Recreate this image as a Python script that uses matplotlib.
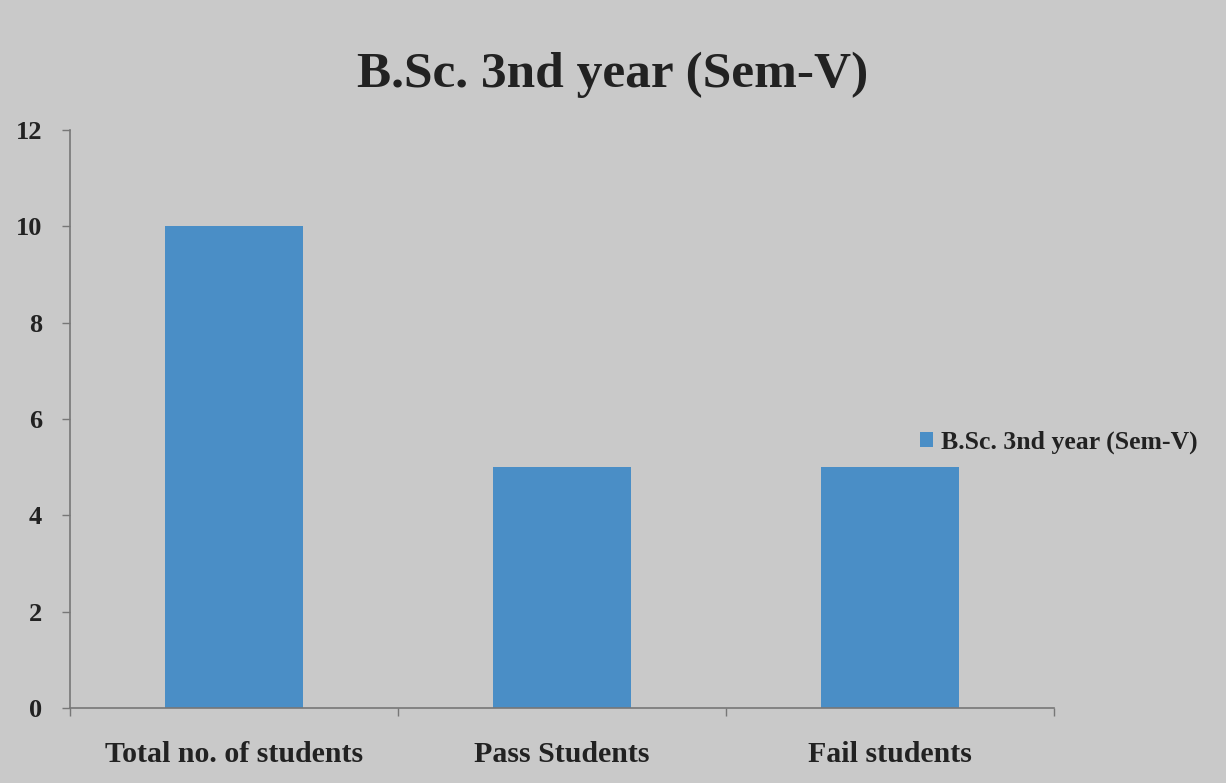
import matplotlib
matplotlib.use("Agg")
import matplotlib.pyplot as plt
import numpy as np

categories = ["Total no. of students", "Pass Students", "Fail students"]
values = [10, 5, 5]
series_name = "B.Sc. 3nd year (Sem-V)"
title = "B.Sc. 3nd year (Sem-V)"
yticks = [0, 2, 4, 6, 8, 10, 12]

plt.rcParams['font.family'] = ['Liberation Serif', 'DejaVu Serif']
plt.rcParams['font.weight'] = 'bold'

bg = '#c9c9c9'
fig = plt.figure(figsize=(12.26, 7.83), dpi=100, facecolor=bg)
ax = fig.add_axes([0.057, 0.096, 0.803, 0.738], facecolor=bg)

x = np.arange(len(categories))
ax.bar(x, values, width=0.42, color='#4a8ec6', label=series_name, zorder=2)

ax.set_xlim(-0.5, len(categories) - 0.5)
ax.set_ylim(0, 12)
ax.set_yticks(yticks)
ax.set_yticklabels([str(t) for t in yticks], fontsize=19, fontweight='bold', color='#222222')
ax.set_xticks(x)
ax.set_xticklabels(categories, fontsize=21.5, fontweight='bold', color='#222222')
ax.tick_params(axis='x', length=0, pad=24)
ax.tick_params(axis='y', length=6, width=1, color='#777777', pad=14)
ax.set_xticks(np.arange(len(categories) + 1) - 0.5, minor=True)
ax.tick_params(axis='x', which='minor', length=6, width=1, color='#777777')

for s in ['top', 'right']:
    ax.spines[s].set_visible(False)
for s in ['left', 'bottom']:
    ax.spines[s].set_color('#777777')
    ax.spines[s].set_linewidth(1.2)

fig.text(0.5, 0.905, title, ha='center', va='center', fontsize=37, fontweight='bold', color='#222222')

leg = ax.legend(loc='center left', bbox_to_anchor=(0.84, 0.46), frameon=False,
                handlelength=0.5, handleheight=0.5, handletextpad=0.3,
                prop={'weight': 'bold', 'size': 18.5})
for t in leg.get_texts():
    t.set_color('#222222')

fig.savefig("out.png", dpi=100, facecolor=bg)
